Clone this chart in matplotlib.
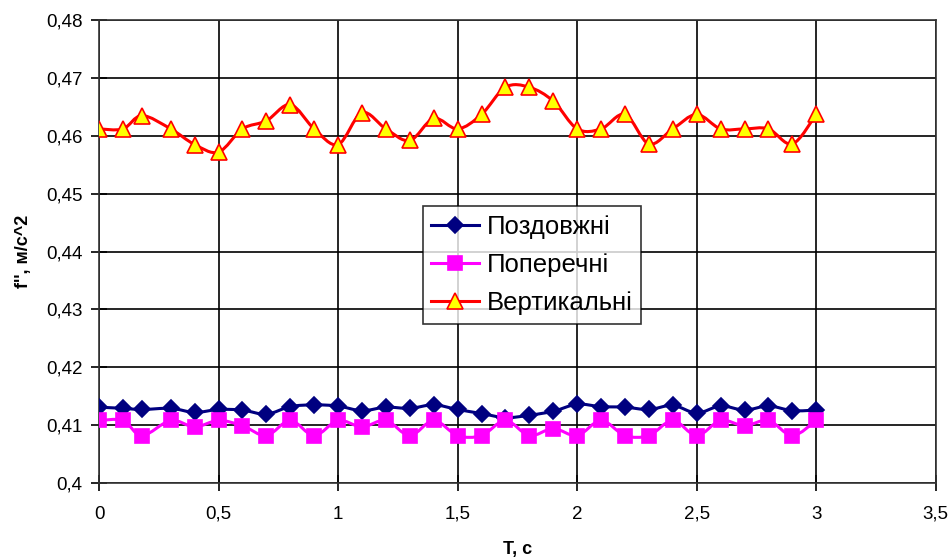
#!/usr/bin/env python3
"""Spectral acceleration f'' vs period T, three directions (Excel-style smoothed lines)."""

import matplotlib
matplotlib.use("Agg")
import matplotlib.pyplot as plt
import numpy as np
from matplotlib.path import Path
from matplotlib.patches import PathPatch
from matplotlib.lines import Line2D
from matplotlib.ticker import FuncFormatter, MultipleLocator

plt.rcParams["font.family"] = ["Liberation Sans", "DejaVu Sans"]

T = [0.0, 0.1, 0.18, 0.3, 0.4, 0.5, 0.6, 0.7, 0.8, 0.9, 1.0,
     1.1, 1.2, 1.3, 1.4, 1.5, 1.6, 1.7, 1.8, 1.9, 2.0,
     2.1, 2.2, 2.3, 2.4, 2.5, 2.6, 2.7, 2.8, 2.9, 3.0]

longitudinal = [0.4131, 0.4129, 0.4127, 0.4129, 0.4122, 0.4127, 0.4126, 0.4119, 0.4132, 0.4135, 0.4133,
                0.4125, 0.4131, 0.4129, 0.4135, 0.4127, 0.4120, 0.4113, 0.4117, 0.4124, 0.4136,
                0.4132, 0.4131, 0.4127, 0.4134, 0.4121, 0.4133, 0.4126, 0.4133, 0.4125, 0.4126]

transverse = [0.4108, 0.4108, 0.4082, 0.4108, 0.4097, 0.4108, 0.4099, 0.4082, 0.4108, 0.4082, 0.4108,
              0.4097, 0.4108, 0.4082, 0.4108, 0.4082, 0.4082, 0.4108, 0.4082, 0.4094, 0.4082,
              0.4108, 0.4082, 0.4082, 0.4108, 0.4082, 0.4108, 0.4099, 0.4108, 0.4082, 0.4108]

vertical = [0.4612, 0.4612, 0.4635, 0.4612, 0.4585, 0.4572, 0.4612, 0.4626, 0.4654, 0.4612, 0.4585,
            0.4640, 0.4612, 0.4592, 0.4630, 0.4612, 0.4637, 0.4684, 0.4684, 0.4660, 0.4612,
            0.4612, 0.4637, 0.4586, 0.4612, 0.4637, 0.4612, 0.4612, 0.4612, 0.4586, 0.4637]

labels = ["Поздовжні", "Поперечні", "Вертикальні"]


def smooth_path(x, y, tension=1 / 6):
    # Catmull-Rom style Bezier path, similar to Excel "smoothed line"
    x = np.asarray(x)
    y = np.asarray(y)
    verts = [(x[0], y[0])]
    codes = [Path.MOVETO]
    n = len(x)
    for i in range(n - 1):
        p0 = i - 1 if i > 0 else i
        p3 = i + 2 if i + 2 < n else i + 1
        c1 = (x[i] + (x[i + 1] - x[p0]) * tension, y[i] + (y[i + 1] - y[p0]) * tension)
        c2 = (x[i + 1] - (x[p3] - x[i]) * tension, y[i + 1] - (y[p3] - y[i]) * tension)
        verts += [c1, c2, (x[i + 1], y[i + 1])]
        codes += [Path.CURVE4] * 3
    return Path(verts, codes)


fig = plt.figure(figsize=(9.52, 5.59), dpi=100)
ax = fig.add_axes([0.104, 0.136, 0.879, 0.828])

styles = [
    dict(color="#000080", marker="D", mfc="#000080", mec="#000080", ms=8),
    dict(color="#FF00FF", marker="s", mfc="#FF00FF", mec="#FF00FF", ms=10),
    dict(color="#FF0000", marker="^", mfc="#FFFF00", mec="#FF0000", ms=11.5),
]
series = [longitudinal, transverse, vertical]

handles = []
for vals, st, lab in zip(series, styles, labels):
    ax.add_patch(PathPatch(smooth_path(T, vals), fill=False, edgecolor=st["color"],
                           lw=2.2, zorder=3))
    ax.plot(T, vals, ls="none", marker=st["marker"], ms=st["ms"], mfc=st["mfc"],
            mec=st["mec"], mew=1.2, zorder=4)
    handles.append(Line2D([], [], color=st["color"], lw=2.2, marker=st["marker"],
                          ms=st["ms"], mfc=st["mfc"], mec=st["mec"], mew=1.2, label=lab))

ax.set_xlim(0, 3.5)
ax.set_ylim(0.40, 0.48)
ax.xaxis.set_major_locator(MultipleLocator(0.5))
ax.yaxis.set_major_locator(MultipleLocator(0.01))
comma = FuncFormatter(lambda v, _: f"{v:.2f}".rstrip("0").rstrip(".").replace(".", ","))
ax.xaxis.set_major_formatter(comma)
ax.yaxis.set_major_formatter(comma)
ax.tick_params(direction="inout", length=12, width=1.2, labelsize=13.5, colors="black", pad=6)
ax.tick_params(axis="x", pad=10.5)
ax.grid(True, color="black", lw=1.2)
ax.set_axisbelow(True)
for sp in ax.spines.values():
    sp.set_linewidth(1.2)
    sp.set_color("#333333")

ax.set_xlabel("T, c", fontsize=13, fontweight="bold")
ax.xaxis.set_label_coords(0.5, -0.125)
ax.set_ylabel("f'', м/с^2", fontsize=13, fontweight="bold")
ax.yaxis.set_label_coords(-0.080, 0.5)

leg = ax.legend(handles=handles, loc="center left", bbox_to_anchor=(0.387, 0.471),
                fontsize=18.5, frameon=True, fancybox=False, edgecolor="black",
                handlelength=1.85, borderpad=0.32, labelspacing=0.56, handletextpad=0.32,
                borderaxespad=0)
leg.get_frame().set_linewidth(1.2)
leg.set_zorder(6)

fig.savefig("out.png", dpi=100)
